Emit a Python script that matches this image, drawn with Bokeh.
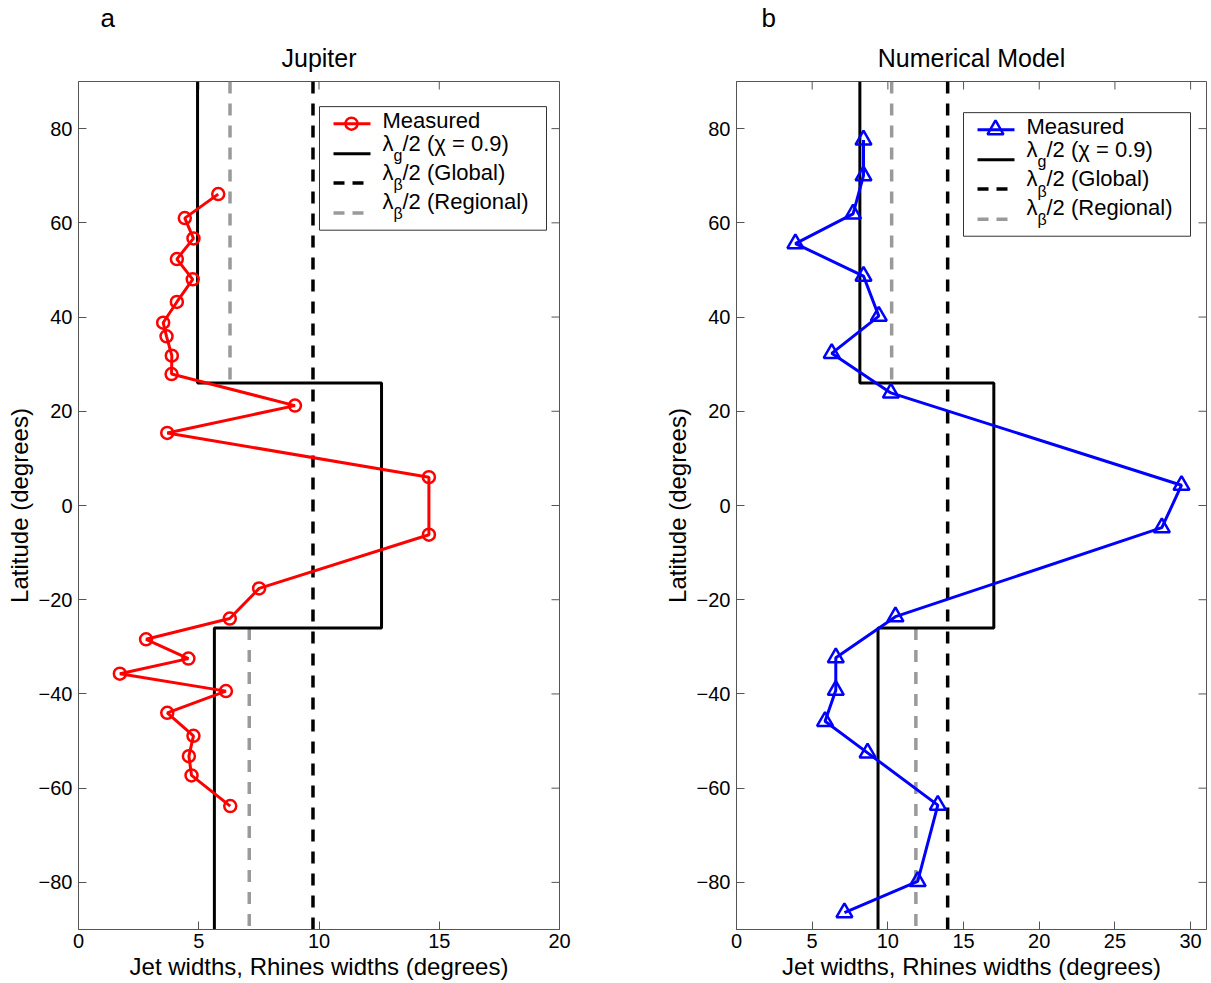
from bokeh.plotting import figure
from bokeh.layouts import row
from bokeh.models import Range1d, FixedTicker, Title
from bokeh.core.properties import value
from bokeh.embed import file_html
from bokeh.resources import INLINE

# ---------------- data ----------------
jup_lat = [66.1, 61.0, 56.7, 52.3, 48.0, 43.2, 38.8, 35.9, 31.8, 27.9, 21.2, 15.4,
           6.0, -6.2, -17.6, -24.0, -28.4, -32.5, -35.7, -39.4, -44.0, -48.9,
           -53.2, -57.3, -63.8]
jup_width = [5.81, 4.42, 4.78, 4.09, 4.75, 4.09, 3.52, 3.66, 3.88, 3.87, 9.0, 3.69,
             14.57, 14.57, 7.51, 6.29, 2.81, 4.57, 1.72, 6.13, 3.69, 4.78,
             4.59, 4.70, 6.31]

mod_lat = [77.6, 70.0, 61.9, 55.6, 48.7, 40.2, 32.3, 23.9, 4.3, -4.7, -23.6, -32.3,
           -39.2, -45.8, -52.5, -63.6, -79.8, -86.4]
mod_width = [8.39, 8.39, 7.70, 3.89, 8.39, 9.40, 6.29, 10.2, 29.4, 28.1, 10.5, 6.56,
             6.56, 5.85, 8.66, 13.3, 11.97, 7.13]

lat_bounds = [90, 26, -26, -90]          # north / equatorial / south zones
jup_lg = [4.95, 12.6, 5.65]              # lambda_g/2 per zone
jup_global = 9.75                        # lambda_beta/2 global
jup_regional = [6.3, 7.1]                # lambda_beta/2 regional (north, south)
mod_lg = [8.15, 17.0, 9.35]
mod_global = 13.95
mod_regional = [10.25, 11.85]

x_ticks_jup = [0, 5, 10, 15, 20]
x_ticks_mod = [0, 5, 10, 15, 20, 25, 30]
y_ticks = [-80, -60, -40, -20, 0, 20, 40, 60, 80]

titles = ["Jupiter", "Numerical Model"]
letters = ["a", "b"]
legend_labels = ["Measured", "/2 (\u03c7 = 0.9)", "/2 (Global)", "/2 (Regional)"]

FONT = "Liberation Sans"
AX = "#555555"
GRAY = "#9a9a9a"
H = 982
TOP = 81
FRAME_H = 844
TICK = 8


def step_path(bounds, vals):
    xs, ys = [], []
    for i, v in enumerate(vals):
        xs += [v, v]
        ys += [bounds[i], bounds[i + 1]]
    return xs, ys


def panel(title, letter, letter_off, x_end, xticks, W, mbl, mbr, frame_w,
          lat, wid, color, marker, msize, lg, glob, reg, box_dx, box_dy):
    p = figure(width=W, height=H, x_range=Range1d(0, x_end), y_range=Range1d(-90, 90),
               toolbar_location=None, output_backend="svg", title=None,
               min_border_left=mbl, min_border_right=mbr, min_border_top=TOP,
               min_border_bottom=0,
               x_axis_label="Jet widths, Rhines widths (degrees)",
               y_axis_label="Latitude (degrees)")
    p.background_fill_color = "white"
    p.border_fill_color = "white"
    p.outline_line_color = AX
    p.outline_line_width = 1
    p.xgrid.visible = False
    p.ygrid.visible = False
    p.xaxis.ticker = FixedTicker(ticks=xticks)
    p.yaxis.ticker = FixedTicker(ticks=y_ticks)
    for ax in (p.xaxis[0], p.yaxis[0]):
        ax.axis_line_color = AX
        ax.major_tick_line_color = AX
        ax.major_tick_in = TICK
        ax.major_tick_out = 0
        ax.minor_tick_line_color = None
        ax.major_label_text_font = FONT
        ax.major_label_text_font_size = "20px"
        ax.major_label_text_color = "black"
        ax.axis_label_text_font = FONT
        ax.axis_label_text_font_size = "24px"
        ax.axis_label_text_font_style = "normal"
        ax.axis_label_text_color = "black"
    p.xaxis.major_label_standoff = 4
    p.xaxis.axis_label_standoff = 2
    p.yaxis.major_label_standoff = 6
    p.yaxis.axis_label_standoff = 3

    p.add_layout(Title(text=title, align="center", text_font=FONT, text_font_size="25px",
                       text_font_style="normal", text_color="black", standoff=19), "above")
    p.add_layout(Title(text=letter, align="left", offset=letter_off, text_font=FONT,
                       text_font_size="26px", text_font_style="normal",
                       text_color="black", standoff=0), "above")

    px_x = x_end / frame_w          # data units per pixel (x)
    px_y = 180.0 / FRAME_H          # data units per pixel (y)

    # mirrored box ticks on the right and top edges
    p.segment(x0=[x_end] * len(y_ticks), x1=[x_end - TICK * px_x] * len(y_ticks),
              y0=y_ticks, y1=y_ticks, line_color=AX, line_width=1)
    p.segment(x0=xticks, x1=xticks, y0=[90] * len(xticks),
              y1=[90 - TICK * px_y] * len(xticks), line_color=AX, line_width=1)

    # reference widths
    p.line([glob, glob], [lat_bounds[0], lat_bounds[-1]], line_color="black",
           line_width=3.5, line_dash="12 10")
    p.line([reg[0], reg[0]], [lat_bounds[0], lat_bounds[1]], line_color=GRAY,
           line_width=3.5, line_dash="12 10")
    p.line([reg[1], reg[1]], [lat_bounds[2], lat_bounds[3]], line_color=GRAY,
           line_width=3.5, line_dash="12 10")
    sx, sy = step_path(lat_bounds, lg)
    p.line(sx, sy, line_color="black", line_width=3)

    # measured jet widths
    p.line(wid, lat, line_color=color, line_width=3)
    p.scatter(wid, lat, marker=marker, size=msize, fill_color=None, line_color=color,
              line_width=2.5)

    # ---- legend (drawn by hand for the subscripts) ----
    def X(dx):
        return dx * px_x

    def Y(dy):
        return 90 - dy * px_y

    bw, bh = 227, 123
    p.quad(left=[X(box_dx)], right=[X(box_dx + bw)], top=[Y(box_dy)],
           bottom=[Y(box_dy + bh)], fill_color="white", line_color="#333333",
           line_width=1)
    rows_y = [17, 47, 76, 106]
    lx0, lx1, mx, tx = 14, 51, 32, 63
    text_y = [14, 37, 66, 94]
    sub_dy = 12
    p.line([X(box_dx + lx0), X(box_dx + lx1)], [Y(box_dy + rows_y[0])] * 2,
           line_color=color, line_width=3)
    p.scatter([X(box_dx + mx)], [Y(box_dy + rows_y[0])], marker=marker, size=msize,
              fill_color=None, line_color=color, line_width=2.5)
    p.line([X(box_dx + lx0), X(box_dx + lx1)], [Y(box_dy + rows_y[1])] * 2,
           line_color="black", line_width=3)
    p.line([X(box_dx + lx0), X(box_dx + lx1)], [Y(box_dy + rows_y[2])] * 2,
           line_color="black", line_width=3.5, line_dash="11 8")
    p.line([X(box_dx + lx0), X(box_dx + lx1)], [Y(box_dy + rows_y[3])] * 2,
           line_color=GRAY, line_width=3.5, line_dash="11 8")
    tkw = dict(text_font=value(FONT), text_baseline="middle", text_align="left",
               text_color="black")
    p.text(x=[X(box_dx + tx)], y=[Y(box_dy + text_y[0])], text=[legend_labels[0]],
           text_font_size="22px", **tkw)
    lam_y = [Y(box_dy + ty) for ty in text_y[1:]]
    p.text(x=[X(box_dx + tx)] * 3, y=lam_y, text=["\u03bb"] * 3,
           text_font_size="22px", **tkw)
    subs = ["g", "\u03b2", "\u03b2"]
    p.text(x=[X(box_dx + tx + 11)] * 3, y=[Y(box_dy + ty + sub_dy) for ty in text_y[1:]],
           text=subs, text_font_size="16px", **tkw)
    p.text(x=[X(box_dx + tx + 20)] * 3, y=lam_y, text=legend_labels[1:],
           text_font_size="22px", **tkw)
    return p


p1 = panel(titles[0], letters[0], 22, 20, x_ticks_jup, 648, 78, 89, 481,
           jup_lat, jup_width, "red", "circle", 12, jup_lg, jup_global, jup_regional,
           241, 25)
p2 = panel(titles[1], letters[1], 25, 31.05, x_ticks_mod, 561, 88, 3, 470,
           mod_lat, mod_width, "blue", "triangle", 16, mod_lg, mod_global, mod_regional,
           227, 31)

layout = row(p1, p2)
open("out.html", "w").write(file_html(layout, INLINE))
